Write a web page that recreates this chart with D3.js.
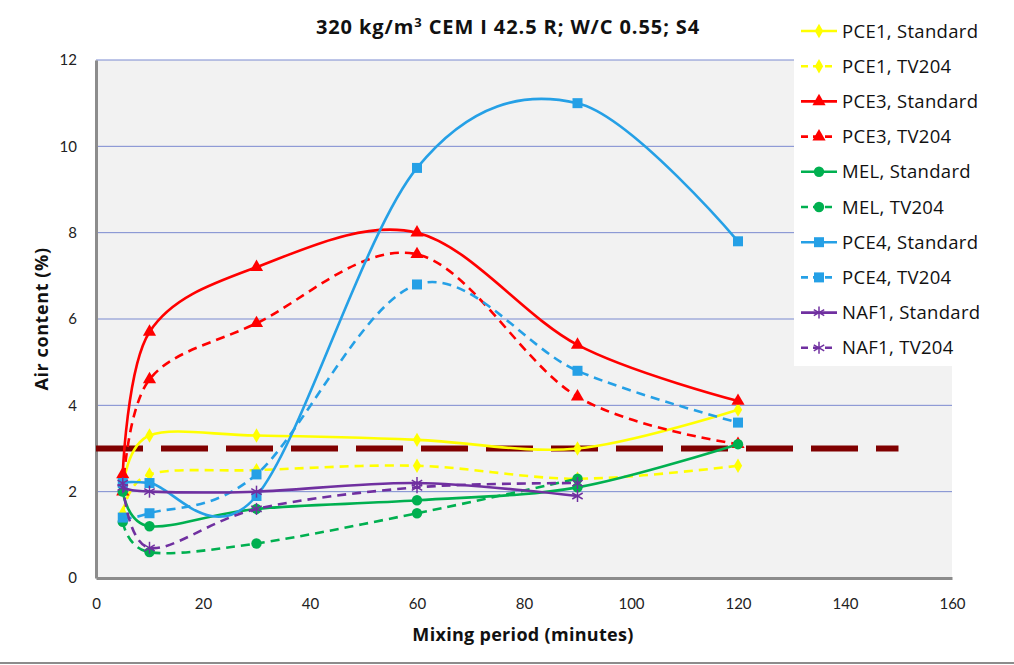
<!DOCTYPE html>
<html><head><meta charset="utf-8">
<script src="https://cdn.jsdelivr.net/npm/d3@7"></script>
<style>body{margin:0;background:#fff}svg{display:block}text{font-family:"Open Sans",Lato,sans-serif}</style>
</head><body><svg id="c" width="1014" height="665"></svg>
<script>
const xTicks=[0,20,40,60,80,100,120,140,160];
const yTicks=[0,2,4,6,8,10,12];
const pce1Std=[[5,2.1],[10,3.3],[30,3.3],[60,3.2],[90,3.0],[120,3.9]];
const pce1Tv=[[5,1.5],[10,2.4],[30,2.5],[60,2.6],[90,2.3],[120,2.6]];
const pce3Std=[[5,2.4],[10,5.7],[30,7.2],[60,8.0],[90,5.4],[120,4.1]];
const pce3Tv=[[5,2.0],[10,4.6],[30,5.9],[60,7.5],[90,4.2],[120,3.1]];
const melStd=[[5,2.0],[10,1.2],[30,1.6],[60,1.8],[90,2.1],[120,3.1]];
const melTv=[[5,1.3],[10,0.6],[30,0.8],[60,1.5],[90,2.3]];
const pce4Std=[[5,2.2],[10,2.2],[30,1.9],[60,9.5],[90,11.0],[120,7.8]];
const pce4Tv=[[5,1.4],[10,1.5],[30,2.4],[60,6.8],[90,4.8],[120,3.6]];
const naf1Std=[[5,2.1],[10,2.0],[30,2.0],[60,2.2],[90,1.9]];
const naf1Tv=[[5,2.2],[10,0.7],[30,1.6],[60,2.1],[90,2.2]];
const limit=[[0,3],[150,3]];
const seriesNames=["PCE1, Standard","PCE1, TV204","PCE3, Standard","PCE3, TV204","MEL, Standard","MEL, TV204","PCE4, Standard","PCE4, TV204","NAF1, Standard","NAF1, TV204"];
const seriesData=[pce1Std,pce1Tv,pce3Std,pce3Tv,melStd,melTv,pce4Std,pce4Tv,naf1Std,naf1Tv];
const seriesColors=["#ffff00","#ffff00","#ff0000","#ff0000","#00b050","#00b050","#25a0e6","#25a0e6","#7030a0","#7030a0"];
const seriesShapes=["diamond","diamond","triangle","triangle","circle","circle","square","square","star","star"];
const seriesDashed=[false,true,false,true,false,true,false,true,false,true];

const svg=d3.select("#c");
const L=96,R=952,T=60,B=578;
const x=d3.scaleLinear().domain([0,160]).range([L,R]);
const y=d3.scaleLinear().domain([0,12]).range([B,T]);

svg.append("rect").attr("x",L).attr("y",T).attr("width",R-L).attr("height",B-T).attr("fill","#f2f2f2");
svg.append("g").selectAll("line").data(yTicks.filter(d=>d>0)).join("line")
 .attr("x1",L).attr("x2",R).attr("y1",d=>y(d)).attr("y2",d=>y(d)).attr("stroke","#7b8ad0").attr("stroke-width",1);
const ya=svg.append("g").attr("transform",`translate(${L},0)`).call(d3.axisLeft(y).tickValues(yTicks).tickSize(0).tickPadding(19));
const xa=svg.append("g").attr("transform",`translate(0,${B})`).call(d3.axisBottom(x).tickValues(xTicks).tickSize(0).tickPadding(20));
[ya,xa].forEach(a=>{a.select(".domain").attr("stroke","#8c8c8c").attr("stroke-width",3);a.selectAll("text").attr("font-size",15).attr("fill","#222").style("font-family","Lato,'Open Sans',sans-serif");});

svg.append("path").datum(limit).attr("d",d3.line().x(d=>x(d[0])).y(d=>y(d[1])))
 .attr("stroke","#800000").attr("stroke-width",6).attr("stroke-dasharray","47,18").attr("fill","none");

const line=d3.line().x(d=>x(d[0])).y(d=>y(d[1])).curve(d3.curveCardinal.tension(0));
function marker(g,shape,color,cx,cy){
  if(shape==="star"){
    const r=6;
    const p=[[0,-r],[0,r],[-r*0.87,-r*0.5],[r*0.87,r*0.5],[-r*0.87,r*0.5],[r*0.87,-r*0.5]];
    for(let i=0;i<6;i+=2) g.append("line").attr("x1",cx+p[i][0]).attr("y1",cy+p[i][1]).attr("x2",cx+p[i+1][0]).attr("y2",cy+p[i+1][1]).attr("stroke",color).attr("stroke-width",1.5);
    return;
  }
  const sym={diamond:d3.symbolDiamond,triangle:d3.symbolTriangle,circle:d3.symbolCircle,square:d3.symbolSquare}[shape];
  const size={diamond:60,triangle:75,circle:85,square:100}[shape];
  g.append("path").attr("d",d3.symbol(sym,size)()).attr("transform",`translate(${cx},${cy})`).attr("fill",color);
}
seriesData.forEach((data,i)=>{
  const g=svg.append("g");
  g.append("path").datum(data).attr("d",line).attr("fill","none").attr("stroke",seriesColors[i]).attr("stroke-width",2.6)
   .attr("stroke-dasharray",seriesDashed[i]?"9,6":null);
  data.forEach(d=>marker(g,seriesShapes[i],seriesColors[i],x(d[0]),y(d[1])));
});

const lg=svg.append("g");
lg.append("rect").attr("x",794).attr("y",6).attr("width",220).attr("height",360).attr("fill","#fff");
seriesNames.forEach((n,i)=>{
  const yy=31+i*35.2;
  lg.append("line").attr("x1",801).attr("x2",837).attr("y1",yy).attr("y2",yy).attr("stroke",seriesColors[i]).attr("stroke-width",2.6)
    .attr("stroke-dasharray",seriesDashed[i]?"7,5":null);
  marker(lg,seriesShapes[i],seriesColors[i],819,yy);
  lg.append("text").attr("x",842).attr("y",yy+6.5).attr("font-size",18.5).attr("letter-spacing",0.3).attr("fill","#111").text(n);
});

svg.append("text").attr("x",508).attr("y",34).attr("text-anchor","middle").attr("font-size",20).attr("letter-spacing",0.9).attr("font-weight","bold").attr("fill","#111")
 .html('320 kg/m<tspan dy="-7" font-size="13">3</tspan><tspan dy="7"> CEM I 42.5 R; W/C 0.55; S4</tspan>');
svg.append("text").attr("x",523).attr("y",641).attr("text-anchor","middle").attr("font-size",18).attr("letter-spacing",0.3).attr("font-weight","bold").attr("fill","#111").text("Mixing period (minutes)");
svg.append("text").attr("transform","translate(48,319) rotate(-90)").attr("text-anchor","middle").attr("font-size",18).attr("letter-spacing",0.6).attr("font-weight","bold").attr("fill","#111").text("Air content (%)");
svg.append("line").attr("x1",0).attr("x2",1014).attr("y1",663).attr("y2",663).attr("stroke","#8c8c8c").attr("stroke-width",2);
</script></body></html>
